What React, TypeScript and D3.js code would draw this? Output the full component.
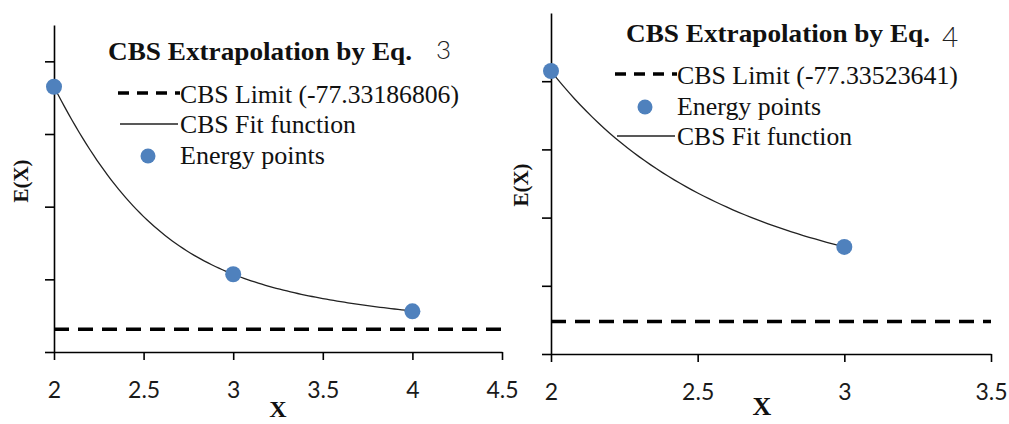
import * as d3 from 'd3';
import { useEffect, useRef } from 'react';

// basis set cardinal numbers and energies (Hartree)
const basisX = [2, 3, 4];
const energies = [-77.2985, -77.3243, -77.3294];
const cbsLimitEq3 = -77.33186806;
const cbsLimitEq4 = -77.33523641;

const xTicksEq3 = [2, 2.5, 3, 3.5, 4, 4.5];
const xTicksEq4 = [2, 2.5, 3, 3.5];
const yTicksEq3 = [-77.335, -77.325, -77.315, -77.305, -77.295];
const yTicksEq4 = [-77.34, -77.33, -77.32, -77.31, -77.3];

const serif = '"Liberation Serif", "Times New Roman", "DejaVu Serif", serif';
const sans = 'Lato, "Open Sans", sans-serif';
const blue = '#4f81bd';

// Eq. 3: E(X) = Ecbs + B exp(-(X-1)) + C exp(-(X-1)^2)
function fitEq3(x: number) {
  const d2 = energies[0] - cbsLimitEq3;
  const d3v = energies[1] - cbsLimitEq3;
  const a11 = Math.exp(-1), a12 = Math.exp(-1);
  const a21 = Math.exp(-2), a22 = Math.exp(-4);
  const det = a11 * a22 - a12 * a21;
  const B = (d2 * a22 - a12 * d3v) / det;
  const C = (a11 * d3v - a21 * d2) / det;
  return cbsLimitEq3 + B * Math.exp(-(x - 1)) + C * Math.exp(-((x - 1) ** 2));
}

// Eq. 4: E(X) = Ecbs + A X^-3 (two-point)
function fitEq4(x: number) {
  const A = (energies[0] - energies[1]) / (1 / 8 - 1 / 27);
  const e0 = energies[1] - A / 27;
  return e0 + A / x ** 3;
}

function Panel({ id, xDomain, xRange, yDomain, yRange, xTicks, yTicks, nPts, fit, limit }) {
  const gx = useRef(null);
  const gy = useRef(null);
  const x = d3.scaleLinear().domain(xDomain).range(xRange);
  const y = d3.scaleLinear().domain(yDomain).range(yRange);

  useEffect(() => {
    const ax = d3.select(gx.current);
    ax.selectAll('*').remove();
    ax.call(d3.axisBottom(x).tickValues(xTicks).tickSize(8).tickSizeOuter(0).tickPadding(22)
      .tickFormat((d) => String(d)));
    ax.select('.domain').attr('stroke', '#000').attr('stroke-width', 1.6);
    ax.selectAll('.tick line').attr('stroke', '#000').attr('stroke-width', 1.6);
    ax.selectAll('.tick text').attr('font-family', sans).attr('font-size', 23).attr('fill', '#1a1a1a');

    const ay = d3.select(gy.current);
    ay.selectAll('*').remove();
    ay.call(d3.axisLeft(y).tickValues(yTicks).tickSize(9).tickSizeOuter(0).tickFormat(() => ''));
    ay.select('.domain').attr('stroke', '#000').attr('stroke-width', 1.6);
    ay.selectAll('.tick line').attr('stroke', '#000').attr('stroke-width', 1.6);
  }, []);

  const xs = d3.range(xDomain[0], basisX[nPts - 1] + 1e-9, 0.02);
  const line = d3.line<number>().x((d) => x(d)).y((d) => y(fit(d)));

  return (
    <g id={id}>
      <line x1={x(xDomain[0])} x2={x(xDomain[1])} y1={y(limit)} y2={y(limit)}
        stroke="#000" strokeWidth={3.5} strokeDasharray="15,9" />
      <path d={line(xs)} fill="none" stroke="#222" strokeWidth={1.3} />
      <g ref={gx} transform={`translate(0,${yRange[0]})`} />
      <g ref={gy} transform={`translate(${xRange[0]},0)`} />
      {basisX.slice(0, nPts).map((bx, i) => (
        <circle key={i} cx={x(bx)} cy={y(energies[i])} r={8} fill={blue} />
      ))}
    </g>
  );
}

function Legend({ x0, rows }) {
  return (
    <g>
      {rows.map((r, i) => (
        <g key={i}>
          {r.kind === 'dash' && (
            <line x1={x0} x2={x0 + 62} y1={r.y - 10} y2={r.y - 10} stroke="#000"
              strokeWidth={3.5} strokeDasharray="11,8" />
          )}
          {r.kind === 'solid' && (
            <line x1={x0 + 2} x2={x0 + 60} y1={r.y - 9} y2={r.y - 9} stroke="#222" strokeWidth={1.3} />
          )}
          {r.kind === 'dot' && <circle cx={x0 + 30} cy={r.y - 8} r={7.5} fill={blue} />}
          <text x={x0 + 62} y={r.y} fontFamily={serif} fontSize={26} textLength={r.w}
            lengthAdjust="spacingAndGlyphs" fill="#111">{r.label}</text>
        </g>
      ))}
    </g>
  );
}

export default function App() {
  return (
    <svg width={1009} height={424} style={{ position: 'absolute', left: 0, top: 0, background: '#fff' }}>
      <Panel id="eq3" xDomain={[2, 4.5]} xRange={[54, 502]} yDomain={[-77.335, -77.29]} yRange={[352, 25]}
        xTicks={xTicksEq3} yTicks={yTicksEq3} nPts={3} fit={fitEq3} limit={cbsLimitEq3} />
      <Panel id="eq4" xDomain={[2, 3.5]} xRange={[551, 991]} yDomain={[-77.34, -77.29]} yRange={[354, 13]}
        xTicks={xTicksEq4} yTicks={yTicksEq4} nPts={2} fit={fitEq4} limit={cbsLimitEq4} />

      <text x={108} y={60} fontFamily={serif} fontWeight="bold" fontSize={26} textLength={304}
        lengthAdjust="spacingAndGlyphs" fill="#111">CBS Extrapolation by Eq.</text>
      <text x={436} y={59} fontFamily={sans} fontSize={26} fontWeight={300} fill="#222">3</text>
      <text x={626} y={42} fontFamily={serif} fontWeight="bold" fontSize={26} textLength={304}
        lengthAdjust="spacingAndGlyphs" fill="#111">CBS Extrapolation by Eq.</text>
      <text x={942} y={47} fontFamily={sans} fontSize={28} fontWeight={300} fill="#222">4</text>

      <Legend x0={118} rows={[
        { kind: 'dash', y: 103, label: 'CBS Limit (-77.33186806)', w: 279 },
        { kind: 'solid', y: 133, label: 'CBS Fit function', w: 176 },
        { kind: 'dot', y: 164, label: 'Energy points', w: 145 },
      ]} />
      <Legend x0={615} rows={[
        { kind: 'dash', y: 84, label: 'CBS Limit (-77.33523641)', w: 281 },
        { kind: 'dot', y: 115, label: 'Energy points', w: 144 },
        { kind: 'solid', y: 145, label: 'CBS Fit function', w: 175 },
      ]} />

      <text transform="translate(28,181) rotate(-90)" textAnchor="middle" fontFamily={serif}
        fontWeight="bold" fontSize={21} fill="#111">E(X)</text>
      <text transform="translate(528,185) rotate(-90)" textAnchor="middle" fontFamily={serif}
        fontWeight="bold" fontSize={21} fill="#111">E(X)</text>
      <text x={278} y={417} textAnchor="middle" fontFamily={serif} fontWeight="bold" fontSize={24} fill="#111">X</text>
      <text x={762} y={415} textAnchor="middle" fontFamily={serif} fontWeight="bold" fontSize={26} fill="#111">X</text>
    </svg>
  );
}
